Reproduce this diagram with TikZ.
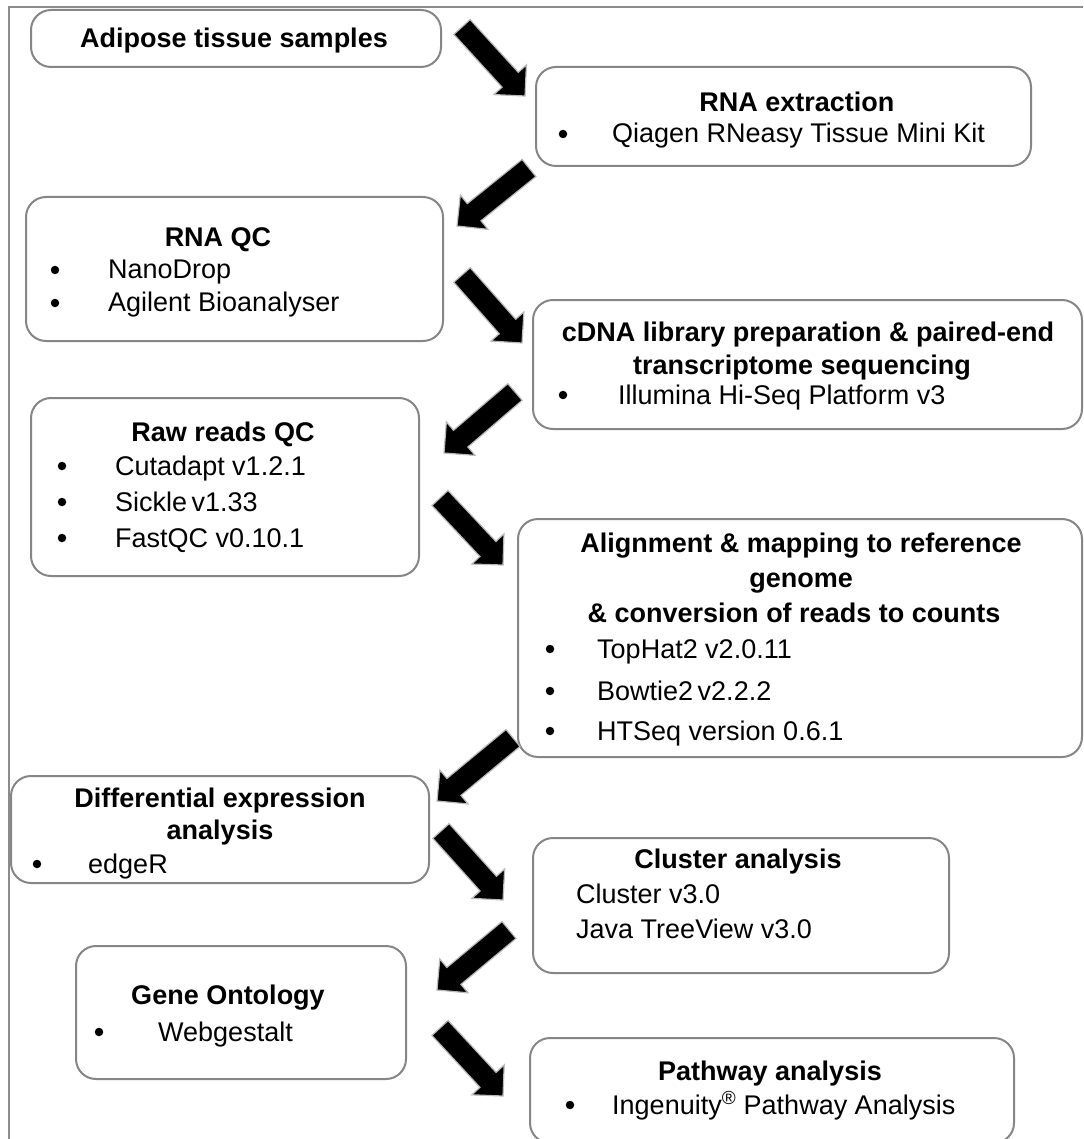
\documentclass[tikz,border=0pt]{standalone}
\usepackage{fontspec}
\setmainfont{Liberation Sans}
\usetikzlibrary{calc}
\definecolor{boxgray}{HTML}{868686}
\definecolor{framegray}{HTML}{8C8C8C}
\tikzset{
  stepbox/.style={draw=boxgray, line width=2pt, rounded corners=20pt, fill=white, anchor=north west, inner sep=0pt},
  ttl/.style={font=\bfseries\fontsize{27}{32}\selectfont, anchor=base, inner sep=0pt},
  itm/.style={font=\fontsize{27}{32}\selectfont, anchor=base west, inner sep=0pt},
  bul/.style={circle, fill=black, minimum size=8.5pt, inner sep=0pt},
  arrowfill/.style={fill=black, draw=gray!55, line width=1.2pt, line join=miter}
}
% block arrow: name, tail, tip
\newcommand{\blockarrow}[3]{%
  \coordinate (#1s) at #2;
  \coordinate (#1e) at #3;
  \coordinate (#1b) at ($(#1e)!22pt!(#1s)$);
  \filldraw[arrowfill]
    ($(#1s)!11pt!90:(#1e)$) -- ($(#1b)!11pt!-90:(#1s)$) -- ($(#1b)!22pt!-90:(#1s)$)
    -- (#1e) -- ($(#1b)!22pt!90:(#1s)$) -- ($(#1b)!11pt!90:(#1s)$)
    -- ($(#1s)!11pt!-90:(#1e)$) -- cycle;}
\begin{document}
\begin{tikzpicture}[x=1pt, y=-1pt]
\useasboundingbox (0,0) rectangle (1083,1139);
\clip (0,0) rectangle (1083,1139);
\fill[white] (0,0) rectangle (1083,1139);
% outer frame
\draw[framegray, line width=2pt] (9,1200) -- (9,7) -- (1200,7);

% boxes
\node[stepbox, minimum width=410pt, minimum height=57pt] (b1) at (30,9) {};
\node[stepbox, minimum width=495pt, minimum height=99pt] (b2) at (535,66) {};
\node[stepbox, minimum width=417pt, minimum height=144pt] (b3) at (25,196) {};
\node[stepbox, minimum width=549pt, minimum height=129pt] (b4) at (532,299) {};
\node[stepbox, minimum width=388pt, minimum height=178pt] (b5) at (30,397) {};
\node[stepbox, minimum width=564pt, minimum height=238pt] (b6) at (517,518) {};
\node[stepbox, minimum width=418pt, minimum height=107pt] (b7) at (10,775) {};
\node[stepbox, minimum width=416pt, minimum height=135pt] (b8) at (532,837) {};
\node[stepbox, minimum width=330pt, minimum height=133pt] (b9) at (75,945) {};
\node[stepbox, minimum width=484pt, minimum height=105pt] (b10) at (529,1037) {};

% box 1
\node[ttl] (t1) at (234,48) {Adipose tissue samples};
% box 2
\node[ttl] (t2) at (797,112) {RNA extraction};
\node[bul] (t2b) at (563,134) {};
\node[itm] (t2i) at (612,143) {Qiagen RNeasy Tissue Mini Kit};
% box 3
\node[ttl] (t3) at (218,247) {RNA QC};
\node[bul] (t3b1) at (55,270) {};
\node[itm] (t3i1) at (108,279) {NanoDrop};
\node[bul] (t3b2) at (55,303) {};
\node[itm] (t3i2) at (108,312) {Agilent Bioanalyser};
% box 4
\node[ttl] (t4a) at (808,341) {cDNA library preparation \& paired-end};
\node[ttl] (t4b) at (802,374) {transcriptome sequencing};
\node[bul] (t4bl) at (563,395) {};
\node[itm] (t4i) at (618,404) {Illumina Hi-Seq Platform v3};
% box 5
\node[ttl] (t5) at (223,441) {Raw reads QC};
\node[bul] (t5b1) at (62,466) {};
\node[itm] (t5i1) at (115,475) {Cutadapt v1.2.1};
\node[bul] (t5b2) at (62,502) {};
\node[itm] (t5i2) at (115,511) {Sickle\,v1.33};
\node[bul] (t5b3) at (62,538) {};
\node[itm] (t5i3) at (115,547) {FastQC v0.10.1};
% box 6
\node[ttl] (t6a) at (801,552) {Alignment \& mapping to reference};
\node[ttl] (t6b) at (801,587) {genome};
\node[ttl] (t6c) at (794,622) {\& conversion of reads to counts};
\node[bul] (t6b1) at (550,649) {};
\node[itm] (t6i1) at (597,658) {TopHat2 v2.0.11};
\node[bul] (t6b2) at (550,691) {};
\node[itm] (t6i2) at (597,700) {Bowtie2\,v2.2.2};
\node[bul] (t6b3) at (550,731) {};
\node[itm] (t6i3) at (597,740) {HTSeq version 0.6.1};
% box 7
\node[ttl] (t7a) at (220,807) {Differential expression};
\node[ttl] (t7b) at (220,839) {analysis};
\node[bul] (t7bl) at (37,864) {};
\node[itm] (t7i) at (88,873) {edgeR};
% box 8
\node[ttl] (t8) at (738,868) {Cluster analysis};
\node[itm] (t8i1) at (576,903) {Cluster v3.0};
\node[itm] (t8i2) at (576,938) {Java TreeView v3.0};
% box 9
\node[ttl] (t9) at (228,1004) {Gene Ontology};
\node[bul] (t9bl) at (99,1032) {};
\node[itm] (t9i) at (158,1041) {Webgestalt};
% box 10
\node[ttl] (t10) at (770,1080) {Pathway analysis};
\node[bul] (t10bl) at (570,1105) {};
\node[itm] (t10i) at (612,1114) {Ingenuity\textsuperscript{\textregistered} Pathway Analysis};

% arrows
\blockarrow{a1}{(462,27)}{(525,96)}
\blockarrow{a2}{(529,168)}{(457,226)}
\blockarrow{a3}{(462,275)}{(522,343)}
\blockarrow{a4}{(515,392)}{(444,453)}
\blockarrow{a5}{(440,498)}{(503,565)}
\blockarrow{a6}{(513,738)}{(437,801)}
\blockarrow{a7}{(441,831)}{(503,900)}
\blockarrow{a8}{(509,930)}{(437,990)}
\blockarrow{a9}{(440,1028)}{(503,1096)}
\end{tikzpicture}
\end{document}
